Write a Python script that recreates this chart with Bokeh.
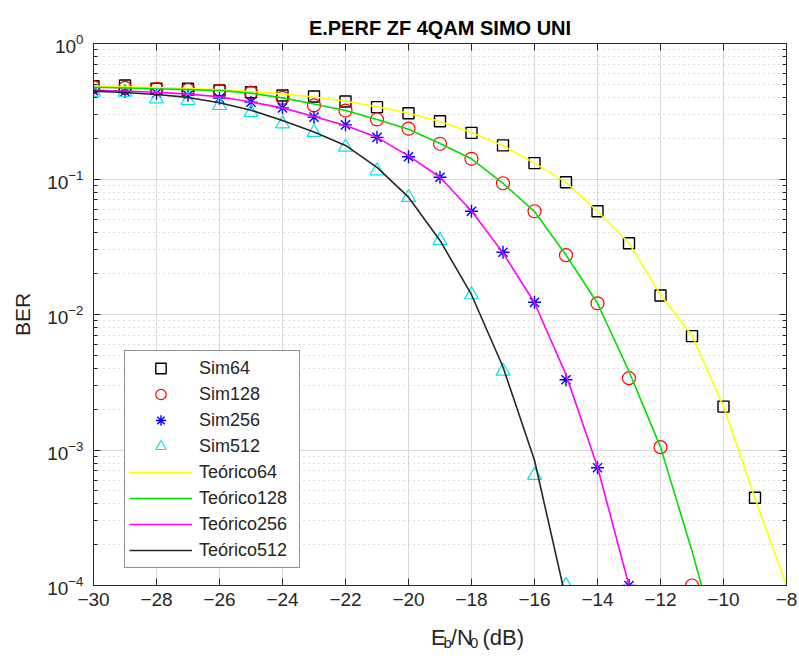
from bokeh.plotting import figure
from bokeh.layouts import column
from bokeh.models import (Legend, LegendItem, LinearAxis, LogAxis, FixedTicker, Range1d)
from bokeh.core.properties import value
from bokeh.embed import file_html
from bokeh.resources import INLINE

# ---- simulated BER (markers) ----
snr_sim64 = [-30, -29, -28, -27, -26, -25, -24, -23, -22, -21, -20, -19, -18, -17,
             -16, -15, -14, -13, -12, -11, -10, -9]
ber_sim64 = [0.484, 0.490, 0.463, 0.463, 0.450, 0.437, 0.413, 0.406, 0.373, 0.339,
             0.306, 0.267, 0.219, 0.177, 0.131, 0.0947, 0.0578, 0.0336, 0.0138,
             0.00692, 0.00209, 4.44e-4]

snr_sim128 = [-30, -29, -28, -27, -26, -25, -24, -23, -22, -21, -20, -19, -18, -17,
              -16, -15, -14, -13, -12, -11]
ber_sim128 = [0.476, 0.470, 0.463, 0.455, 0.448, 0.434, 0.397, 0.349, 0.320, 0.275,
              0.235, 0.182, 0.141, 0.093, 0.0578, 0.0274, 0.0121, 0.00339, 0.00105,
              1.0e-4]

snr_sim256 = [-30, -29, -28, -27, -26, -25, -24, -23, -22, -21, -20, -19, -18, -17,
              -16, -15, -14, -13]
ber_sim256 = [0.449, 0.442, 0.430, 0.415, 0.395, 0.369, 0.335, 0.286, 0.251, 0.203,
              0.146, 0.103, 0.0578, 0.0288, 0.0123, 0.0033, 7.4e-4, 1.0e-4]

snr_sim512 = [-30, -29, -28, -27, -26, -25, -24, -23, -22, -21, -20, -19, -18, -17,
              -16, -15]
ber_sim512 = [0.437, 0.437, 0.390, 0.380, 0.349, 0.310, 0.255, 0.221, 0.172, 0.115,
              0.0733, 0.0352, 0.0140, 0.00382, 6.5e-4, 1.0e-4]

# ---- theoretical BER (lines) ----
snr_th64 = [-30, -29, -28, -27, -26, -25, -24, -23, -22, -21, -20, -19, -18, -17,
            -16, -15, -14, -13, -12, -11, -10, -9, -8]
ber_th64 = [0.485, 0.480, 0.473, 0.465, 0.455, 0.442, 0.425, 0.403, 0.375, 0.342,
            0.306, 0.266, 0.220, 0.176, 0.131, 0.0945, 0.0578, 0.0336, 0.0140,
            0.0070, 0.0021, 4.4e-4, 1.0e-4]

snr_th128 = [-30, -29, -28, -27, -26, -25, -24, -23, -22, -21, -20, -19, -18, -17,
             -16, -15, -14, -13, -12, -11, -10.7]
ber_th128 = [0.476, 0.470, 0.463, 0.457, 0.450, 0.430, 0.397, 0.358, 0.320, 0.275,
             0.233, 0.183, 0.141, 0.093, 0.0575, 0.0275, 0.0121, 0.0038, 0.00105,
             1.8e-4, 1.0e-4]

snr_th256 = [-30, -29, -28, -27, -26, -25, -24, -23, -22, -21, -20, -19, -18, -17,
             -16, -15, -14, -13]
ber_th256 = [0.452, 0.446, 0.437, 0.423, 0.405, 0.370, 0.335, 0.289, 0.248, 0.203,
             0.148, 0.103, 0.058, 0.0285, 0.0122, 0.0036, 7.5e-4, 1.0e-4]

snr_th512 = [-30, -29, -28, -27, -26, -25, -24, -23, -22, -21, -20, -19, -18, -17,
             -16, -15.1]
ber_th512 = [0.445, 0.435, 0.420, 0.400, 0.365, 0.322, 0.270, 0.222, 0.177, 0.122,
             0.0734, 0.0352, 0.0140, 0.0041, 8.4e-4, 1.0e-4]

x_ticks = [-30, -28, -26, -24, -22, -20, -18, -16, -14, -12, -10, -8]
y_ticks = [1e-4, 1e-3, 1e-2, 1e-1, 1.0]
y_minor = [k * 10.0 ** e for e in range(-4, 0) for k in range(2, 10)]

AX = "#262626"
FONT = "Liberation Sans"
W = 799
H_MAIN, H_XLABEL = 617, 44
B_LEFT, B_RIGHT = 93, 13

p = figure(width=W, height=H_MAIN, x_range=Range1d(-30, -8), y_range=Range1d(1e-4, 1.0),
           y_axis_type="log", output_backend="svg", toolbar_location=None,
           min_border_left=B_LEFT, min_border_right=B_RIGHT, min_border_top=43,
           min_border_bottom=32, background_fill_color="white",
           border_fill_color="white", outline_line_color=AX)

p.title.text = "E.PERF ZF 4QAM SIMO UNI"
p.title.align = "center"
p.title.text_font = FONT
p.title.text_font_size = "20px"
p.title.text_font_style = "bold"
p.title.text_color = "#000000"

xt = FixedTicker(ticks=x_ticks)
yt = FixedTicker(ticks=y_ticks, minor_ticks=y_minor)

for ax in (p.xaxis[0], p.yaxis[0]):
    ax.axis_line_color = AX
    ax.major_tick_line_color = AX
    ax.minor_tick_line_color = AX
    ax.major_tick_in = 7
    ax.major_tick_out = 0
    ax.minor_tick_in = 4
    ax.minor_tick_out = 0
    ax.major_label_text_font = FONT
    ax.major_label_text_font_size = "19px"
    ax.major_label_text_color = AX

p.xaxis[0].ticker = xt
p.xaxis[0].major_label_standoff = 7
p.yaxis[0].ticker = yt
p.yaxis[0].major_label_standoff = 10
p.yaxis[0].axis_label = "BER"
p.yaxis[0].axis_label_text_font = FONT
p.yaxis[0].axis_label_text_font_size = "21px"
p.yaxis[0].axis_label_text_font_style = "normal"
p.yaxis[0].axis_label_text_color = AX
p.yaxis[0].axis_label_standoff = 10

# box axes on top and right (ticks only, labels invisible)
top = LinearAxis(ticker=xt, major_label_text_font_size="1px", major_label_text_alpha=0,
                 major_label_standoff=0, major_tick_in=7, major_tick_out=0,
                 axis_line_color=AX, major_tick_line_color=AX)
right = LogAxis(ticker=yt, major_label_text_font_size="1px", major_label_text_alpha=0,
                major_label_standoff=0, major_tick_in=7, major_tick_out=0,
                minor_tick_in=4, minor_tick_out=0, axis_line_color=AX,
                major_tick_line_color=AX, minor_tick_line_color=AX)
p.add_layout(top, "above")
p.add_layout(right, "right")

# grid
p.xgrid.ticker = xt
p.xgrid.grid_line_color = "#d9d9d9"
p.ygrid.ticker = yt
p.ygrid.grid_line_color = "#d9d9d9"
p.ygrid.minor_grid_line_color = "#bdbdbd"
p.ygrid.minor_grid_line_dash = "1 4"

# simulated points
r_s64 = p.scatter(snr_sim64, ber_sim64, marker="square", size=11, fill_color=None,
                  line_color="#000000", line_width=1.4)
r_s128 = p.scatter(snr_sim128, ber_sim128, marker="circle", size=13, fill_color=None,
                   line_color="#ff0000", line_width=1.2)
r_s256 = p.scatter(snr_sim256, ber_sim256, marker="asterisk", size=13,
                   line_color="#0000ff", line_width=1.4)
r_s512 = p.scatter(snr_sim512, ber_sim512, marker="triangle", size=14, fill_color=None,
                   line_color="#00e5e5", line_width=1.2)

# theoretical curves
r_t64 = p.line(snr_th64, ber_th64, line_color="#ffff00", line_width=1.6)
r_t128 = p.line(snr_th128, ber_th128, line_color="#00e000", line_width=1.6)
r_t256 = p.line(snr_th256, ber_th256, line_color="#ff00ff", line_width=1.6)
r_t512 = p.line(snr_th512, ber_th512, line_color="#262626", line_width=1.6)

legend = Legend(items=[
    LegendItem(label="Sim64", renderers=[r_s64]),
    LegendItem(label="Sim128", renderers=[r_s128]),
    LegendItem(label="Sim256", renderers=[r_s256]),
    LegendItem(label="Sim512", renderers=[r_s512]),
    LegendItem(label="Teórico64", renderers=[r_t64]),
    LegendItem(label="Teórico128", renderers=[r_t128]),
    LegendItem(label="Teórico256", renderers=[r_t256]),
    LegendItem(label="Teórico512", renderers=[r_t512]),
], location=(31, 17))
legend.margin = 0
legend.padding = 4
legend.spacing = 0
legend.glyph_width = 63
legend.glyph_height = 26
legend.label_height = 26
legend.label_width = 96
legend.label_standoff = 7
legend.label_text_font = FONT
legend.label_text_font_size = "18px"
legend.label_text_color = AX
legend.border_line_color = AX
legend.border_line_width = 1
legend.background_fill_alpha = 1.0
p.add_layout(legend)

# strip under the plot carrying the x-axis title E_b/N_0 (dB) with subscripts
q = figure(width=W, height=H_XLABEL, x_range=Range1d(0, W), y_range=Range1d(0, H_XLABEL),
           output_backend="svg", toolbar_location=None, min_border=0,
           outline_line_color=None, background_fill_color="white",
           border_fill_color="white")
q.axis.visible = False
q.grid.visible = False

fs, fsub = 22, 15
w = {"E": 0.667, "b": 0.556, "/": 0.278, "N": 0.722, "0": 0.556, " ": 0.278,
     "(": 0.333, "d": 0.556, "B": 0.667, ")": 0.333}
# (text, font size, baseline shift, gap before)
parts = [("E", fs, 0, 0), ("b", fsub, -5, 0), ("/N", fs, 0, 0), ("0", fsub, -5, 0),
         ("(dB)", fs, 0, w[" "] * fs)]
total = sum(g + sum(w[c] for c in t) * s for t, s, _, g in parts)
cx = B_LEFT + (W - B_LEFT - B_RIGHT) / 2
xpos = cx - total / 2
base = 24
for t, s, dy, gap in parts:
    xpos += gap
    q.text(x=[xpos], y=[base + dy], text=[t], text_font=value(FONT),
           text_font_size=value(f"{s}px"), text_color=AX,
           text_baseline="alphabetic", text_align="left")
    xpos += sum(w[c] for c in t) * s

layout = column(p, q, spacing=0)
open("out.html", "w").write(file_html(layout, INLINE))
